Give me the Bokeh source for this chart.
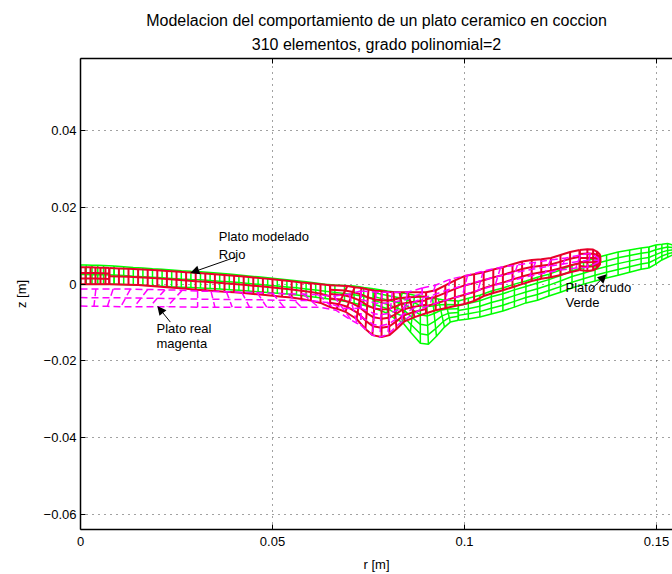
from bokeh.plotting import figure
from bokeh.models import LinearAxis, FixedTicker, Arrow, NormalHead, ColumnDataSource, Title
from bokeh.core.properties import value
from bokeh.embed import file_html
from bokeh.resources import INLINE

# All mesh values are millimetres (r, z); plotted in metres.
title_lines = ["Modelacion del comportamiento de un plato ceramico en coccion",
               "310 elementos, grado polinomial=2"]
x_ticks = [0, 0.05, 0.1, 0.15]
x_labels = ["0", "0.05", "0.1", "0.15"]
y_ticks = [-0.06, -0.04, -0.02, 0, 0.02, 0.04]
y_labels = ["\u22120.06", "\u22120.04", "\u22120.02", "0", "0.02", "0.04"]

# ---- red mesh (Plato modelado)
red_left_r = [0, 1.3, 2.6, 3.9, 5.2, 6.5, 7.5]
red_left_top = [4.4, 4.4, 4.4, 4.35, 4.3, 4.25, 4.2]
red_left_bot = [0, 0, 0, 0, 0, -.05, -.05]

red_plate_r = [7.5, 10, 12.5, 15, 17.5, 20, 22.5, 25, 27.5, 30, 32.5, 35, 37.5, 40, 42.5, 45, 47.5, 50, 52.5, 55, 57.5, 60, 62.5, 65]
red_plate_top = [4.2, 4.1, 4.0, 3.9, 3.75, 3.6, 3.45, 3.3, 3.1, 2.95, 2.8, 2.6, 2.4, 2.2, 2.0, 1.75, 1.5, 1.25, 1.0, .75, .45, .2, -.05, -.3]
red_plate_bot = [-.05, -.1, -.15, -.25, -.4, -.6, -.8, -1.0, -1.2, -1.45, -1.6, -1.8, -2.0, -2.15, -2.3, -2.55, -2.8, -3.05, -3.3, -3.5, -3.9, -4.3, -4.9, -6.0]

red_foot_top_r = [65, 69.5, 71.4, 73.2, 75, 76.8, 78.4, 79.9, 81.5, 83.1, 85.2, 90]
red_foot_top_z = [-.3, -.5, -.8, -1.0, -1.4, -1.7, -1.8, -2.0, -2.1, -2.1, -2.1, -2.1]
red_foot_bot_r = [65, 66.7, 69, 71.9, 74.2, 76, 78.4, 80.5, 82.3, 84.4, 87, 90]
red_foot_bot_z = [-6.0, -6.4, -7.2, -9.1, -11.7, -13.3, -13.8, -13.3, -11.7, -9.7, -8.6, -7.6]

red_right_r = [90, 92.5, 95, 97.5, 100, 102.5, 105, 107.5, 110, 112.5, 115, 117.5, 120, 122.5, 125, 127.5, 130]
red_right_top = [-2.1, -1.6, -.3, 1.0, 2.1, 2.6, 3.1, 3.8, 4.4, 5.2, 5.9, 6.3, 6.5, 6.8, 7.6, 8.4, 8.9]
red_right_bot = [-7.6, -6.8, -6.3, -5.7, -5.2, -4.4, -3.1, -2.3, -1.6, -.8, 0, .8, 1.4, 1.8, 2.4, 3.1, 3.7]

red_tip_r = [130, 132, 133.5, 134.5, 135.2, 135.4]
red_tip_top = [8.9, 9.1, 9.0, 8.5, 7.8, 7.0]
red_tip_bot = [3.7, 3.4, 3.6, 4.2, 5.0, 6.0]

# ---- green mesh (Plato crudo)
green_left_r = [0, 1.5, 3, 4.5, 6, 8.75]
green_left_top = [5.0, 5.0, 4.95, 4.9, 4.85, 4.75]
green_left_bot = [0, 0, 0, 0, 0, -.05]

green_plate_r = [8.75, 11.25, 13.75, 16.25, 18.75, 21.25, 23.75, 26.25, 28.75, 31.25, 33.75, 36.25, 38.75, 41.25, 43.75, 46.25, 48.75, 51.25, 53.75, 56.25, 58.75, 61.25, 63.75, 66.25, 68.75, 71.25, 73.75, 76.25]
green_plate_top = [4.75, 4.55, 4.35, 4.2, 4.0, 3.85, 3.7, 3.5, 3.35, 3.25, 3.05, 2.85, 2.65, 2.4, 2.15, 1.9, 1.65, 1.4, 1.15, .9, .6, .3, 0, -.2, -.35, -.5, -.9, -1.2]
green_plate_bot = [-.05, -.1, -.2, -.3, -.4, -.55, -.7, -.8, -.9, -1.0, -1.15, -1.3, -1.45, -1.6, -1.8, -2.0, -2.2, -2.4, -2.6, -2.85, -3.1, -3.4, -3.75, -4.1, -4.5, -5.0, -5.5, -6.2]

green_foot_top_r = [76.25, 79.9, 83.8, 85.4, 87, 88.5, 90.1, 91.7, 93.2, 95, 98.4]
green_foot_top_z = [-1.2, -1.8, -2.3, -2.6, -2.9, -3.1, -3.4, -3.7, -3.9, -4.2, -4.4]
green_foot_bot_r = [76.25, 79.9, 81.7, 83.8, 85.9, 88.5, 90.6, 92.7, 94.8, 96.3, 98.4]
green_foot_bot_z = [-6.2, -7.6, -8.9, -9.9, -12.5, -15.4, -15.7, -13.6, -11.2, -9.9, -9.4]

green_right_r = [98.4, 101, 104, 107, 110, 113, 116, 119, 122, 125, 128, 131, 134, 137, 140, 143, 146, 148]
green_right_top = [-4.4, -3.7, -2.9, -1.8, -1.0, 0, .8, 1.8, 2.6, 3.7, 5.0, 5.7, 6.8, 7.6, 8.4, 8.9, 9.4, 9.7]
green_right_bot = [-9.4, -9.1, -8.6, -7.8, -7.0, -6.0, -4.9, -4.2, -3.1, -2.1, -1.0, 0, .8, 1.6, 2.3, 3.1, 3.9, 4.2]

green_tip_r = [148, 149.8, 151.4, 152.9, 154.2, 155.3]
green_tip_top = [9.7, 10.2, 10.4, 10.6, 10.2, 8.9]
green_tip_bot = [4.2, 5.2, 6.3, 7.0, 7.6, 8.1]

# ---- magenta mesh (Plato real)
mag_plate_top_r = [0, 4, 8.5, 13, 17.5, 22, 26.5, 30.5, 34, 38, 42, 46, 50, 54, 58, 62, 66, 70, 73]
mag_plate_top_z = [-1.3, -1.3, -1.3, -1.3, -1.4, -1.5, -1.6, -1.8, -1.9, -2.0, -2.1, -2.2, -2.4, -2.5, -2.6, -2.8, -3.1, -2.6, -1.8]
mag_plate_bot_r = [0, 3.5, 7, 10.5, 14, 18, 22.5, 30.5, 35, 39.5, 44, 48.5, 53, 57.5, 62, 66.5, 70.5, 72, 73]
mag_plate_bot_z = [-5.7, -5.8, -5.8, -5.9, -5.9, -5.9, -5.9, -6.0, -6.0, -6.0, -6.0, -6.0, -6.0, -6.0, -6.0, -6.8, -9.4, -10.2, -10.7]

mag_foot_top_r = [73, 77, 78.5, 81.2, 85.2, 89]
mag_foot_top_z = [-1.8, -2.1, -2.1, -2.1, -2.1, -1.0]
mag_foot_bot_r = [73, 76, 78, 80, 83.5, 89]
mag_foot_bot_z = [-10.7, -13.3, -13.8, -13.1, -9.9, -6.3]

mag_right_top_r = [89, 92.4, 96.3, 100.8, 104.9, 109.4, 113.8, 118.5, 122.4, 126.3, 130.2, 132.8, 134.9]
mag_right_top_z = [-1.0, -.3, 1.3, 2.3, 3.4, 4.4, 5.0, 5.7, 6.3, 6.8, 7.6, 8.1, 6.8]
mag_right_bot_r = [89, 91, 95, 99.5, 103.5, 108, 112.5, 117, 121, 125, 129, 132, 134.9]
mag_right_bot_z = [-6.3, -5.5, -4.2, -2.9, -1.6, -.3, 1.0, 2.1, 2.9, 3.7, 4.2, 4.4, 5.7]

# ---- annotations (mm)
note_text = ["Plato modelado", "Rojo", "Plato real", "magenta", "Plato crudo", "Verde"]
note_r = [36, 36, 19.8, 19.8, 126.3, 126.3]
note_z = [12.3, 7.8, -11.7, -15.4, -1.0, -4.7]
arrow_tail_r = [40.4, 23.4, 132.8]
arrow_tail_z = [7.05, -9.9, -1.6]
arrow_head_r = [28.6, 20, 137]
arrow_head_z = [2.9, -5.7, 2.6]


def grid_lines(top_r, top_z, bot_r, bot_z, rows):
    """Lines of one structured mesh block, in metres."""
    xs, ys = [], []
    for a, b, c, d in zip(top_r, top_z, bot_r, bot_z):
        xs.append([a / 1000, c / 1000])
        ys.append([b / 1000, d / 1000])
    for k in range(rows + 1):
        t = k / rows
        xs.append([(a + (c - a) * t) / 1000 for a, c in zip(top_r, bot_r)])
        ys.append([(b + (d - b) * t) / 1000 for b, d in zip(top_z, bot_z)])
    return xs, ys


def collect(blocks):
    xs, ys = [], []
    for b in blocks:
        x, y = grid_lines(*b)
        xs += x
        ys += y
    return ColumnDataSource(dict(xs=xs, ys=ys))


FONT = "Liberation Sans"
p = figure(width=672, height=574, output_backend="svg", toolbar_location=None,
           x_range=(0, 0.15417), y_range=(-0.0640, 0.05885),
           min_border_left=80, min_border_right=0, min_border_top=58, min_border_bottom=45,
           x_axis_label="r [m]", y_axis_label="z [m]")
p.outline_line_color = None
p.background_fill_color = "white"

for ax, ticks, labels in ((p.xaxis[0], x_ticks, x_labels), (p.yaxis[0], y_ticks, y_labels)):
    ax.ticker = FixedTicker(ticks=ticks)
    ax.major_label_overrides = dict(zip(ticks, labels))
    ax.major_tick_in = 5
    ax.major_tick_out = 0
    ax.minor_tick_line_color = None
    ax.axis_line_width = 1.5
    ax.axis_line_color = "black"
    ax.major_tick_line_color = "black"
    ax.major_label_text_font = FONT
    ax.major_label_text_font_size = "13px"
    ax.major_label_text_color = "black"
    ax.axis_label_text_font = FONT
    ax.axis_label_text_font_size = "13px"
    ax.axis_label_text_font_style = "normal"
    ax.axis_label_text_color = "black"
p.xaxis[0].major_label_standoff = 7
p.xaxis[0].axis_label_standoff = 8
p.yaxis[0].major_label_standoff = 4
p.yaxis[0].axis_label_standoff = 12

top_axis = LinearAxis(ticker=FixedTicker(ticks=x_ticks), major_label_text_color=None,
                      major_tick_in=5, major_tick_out=0, minor_tick_line_color=None,
                      axis_line_width=1.5, axis_line_color="black", major_label_text_font_size="0px",
                      major_label_standoff=0)
p.add_layout(top_axis, "above")

p.xgrid[0].ticker = FixedTicker(ticks=x_ticks)
p.ygrid[0].ticker = FixedTicker(ticks=y_ticks)
for g in (p.xgrid[0], p.ygrid[0]):
    g.grid_line_color = "#444444"
    g.grid_line_dash = "1 5"
    g.grid_line_width = 1

green = collect([
    (green_left_r, green_left_top, green_left_r, green_left_bot, 2),
    (green_plate_r, green_plate_top, green_plate_r, green_plate_bot, 2),
    (green_foot_top_r, green_foot_top_z, green_foot_bot_r, green_foot_bot_z, 5),
    (green_right_r, green_right_top, green_right_r, green_right_bot, 4),
    (green_tip_r, green_tip_top, green_tip_r, green_tip_bot, 4),
])
red = collect([
    (red_left_r, red_left_top, red_left_r, red_left_bot, 3),
    (red_plate_r, red_plate_top, red_plate_r, red_plate_bot, 2),
    (red_foot_top_r, red_foot_top_z, red_foot_bot_r, red_foot_bot_z, 5),
    (red_right_r, red_right_top, red_right_r, red_right_bot, 3),
    (red_tip_r, red_tip_top, red_tip_r, red_tip_bot, 5),
])
magenta = collect([
    (mag_plate_top_r, mag_plate_top_z, mag_plate_bot_r, mag_plate_bot_z, 2),
    (mag_foot_top_r, mag_foot_top_z, mag_foot_bot_r, mag_foot_bot_z, 4),
    (mag_right_top_r, mag_right_top_z, mag_right_bot_r, mag_right_bot_z, 2),
])
p.multi_line("xs", "ys", source=green, line_color="#00ff00", line_width=1.5)
p.multi_line("xs", "ys", source=red, line_color="#e8002a", line_width=2)
p.multi_line("xs", "ys", source=magenta, line_color="#ff00ff", line_width=1.5, line_dash="7 4")

for a, b, c, d in zip(arrow_tail_r, arrow_tail_z, arrow_head_r, arrow_head_z):
    p.add_layout(Arrow(x_start=a / 1000, y_start=b / 1000, x_end=c / 1000, y_end=d / 1000,
                       line_color="black", line_width=1,
                       end=NormalHead(size=9, fill_color="black", line_color="black", line_width=0)))

p.text([r / 1000 for r in note_r], [z / 1000 for z in note_z], text=note_text,
       text_font=value(FONT), text_font_size="13px", text_color="black",
       text_baseline="middle", text_align="left")

for txt, gap in zip(reversed(title_lines), (11, 0)):
    p.add_layout(Title(text=txt, align="center", text_font=FONT, text_font_size="16px",
                       text_font_style="normal", text_color="black", standoff=gap, offset=2,
                       text_line_height=0.85), "above")

open("out.html", "w").write(file_html(p, INLINE))
